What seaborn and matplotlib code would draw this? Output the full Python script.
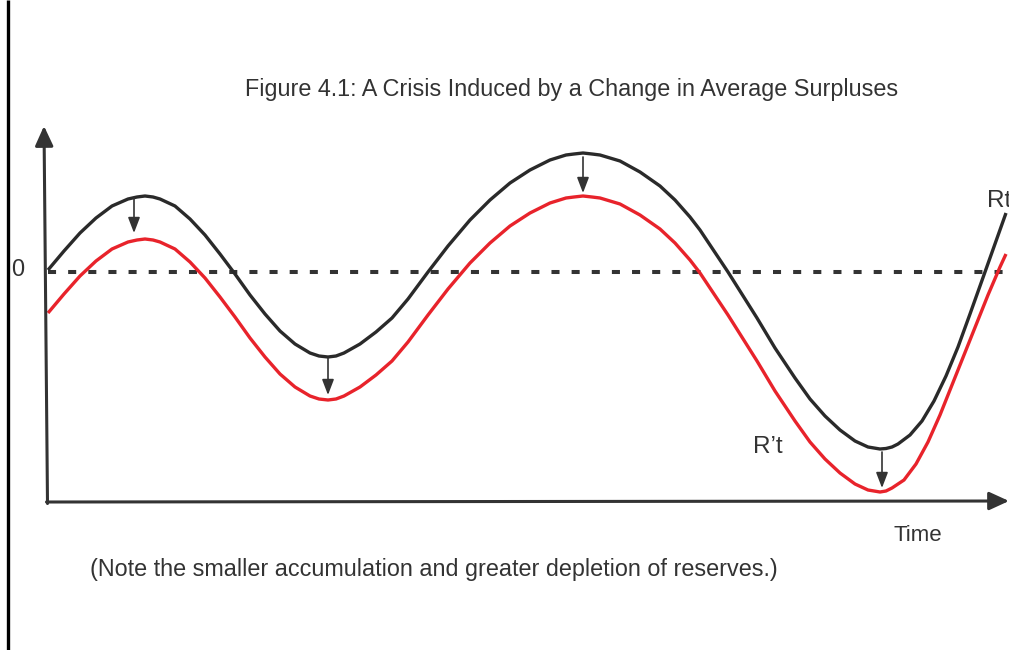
import matplotlib
matplotlib.use('Agg')
import matplotlib.pyplot as plt
import pandas as pd
import seaborn as sns

# reserves over time (0 = the dashed line)
rt_time = [48, 64, 80, 96, 112, 128, 137, 145, 153, 160, 175, 190, 205, 220, 235, 250, 265, 280, 295, 310, 319, 328,
           336, 344, 360, 376, 392, 408, 428, 448, 470, 490, 510, 530, 550, 566, 574, 583,
           592, 600, 620, 640, 660, 675, 690, 700, 710, 728, 757, 775, 795, 810, 825, 840, 855, 868, 874, 880,
           886, 892, 898, 910, 922, 934, 946, 958, 970, 985, 1006]
rt_level = [2, 21, 39, 54, 66, 73, 75, 76, 75, 73, 66, 53, 37, 18, -2, -23, -42, -59, -72, -81, -84, -85,
            -84, -81, -72, -60, -46, -27, 0, 26, 52, 72, 89, 102, 112, 117, 118, 119,
            118, 117, 111, 100, 86, 72, 55, 42, 27, 0, -46, -76, -106, -127, -144, -158, -169, -175, -176, -177,
            -176.5, -175, -172, -163, -149, -129, -104, -75, -42, 0, 59]

rpt_time = [48, 64, 80, 96, 112, 128, 137, 145, 153, 160, 175, 190, 205, 220, 235, 250, 265, 280, 295, 310, 319, 328,
            336, 344, 360, 376, 392, 408, 428, 448, 470, 490, 510, 530, 550, 566, 574, 583,
            592, 600, 620, 640, 660, 675, 690, 700, 710, 728, 757, 775, 795, 810, 825, 840, 855, 868, 874, 880,
            886, 892, 904, 916, 928, 940, 952, 964, 976, 988, 1000, 1006]
rpt_level = [-41, -22, -4, 11, 23, 30, 32, 33, 32, 30, 23, 10, -6, -25, -45, -66, -85, -102, -115, -124, -127, -128,
             -127, -124, -115, -103, -89, -70, -43, -17, 9, 29, 46, 59, 69, 74, 75, 76,
             75, 74, 68, 57, 43, 29, 12, -1, -16, -43, -89, -119, -149, -170, -187, -201, -212, -218, -219, -220,
             -219, -216, -208, -192, -170, -143, -113, -83, -53, -23, 5, 18]

# downward shift arrows at the turning points
shift_time = [134, 328, 583, 882]
shift_from = [74, -86, 115, -180]
shift_to = [39, -123, 79, -216]

title = 'Figure 4.1: A Crisis Induced by a Change in Average Surpluses'
note = '(Note the smaller accumulation and greater depletion of reserves.)'

sns.set_theme(style='white')
plt.rcParams['font.family'] = ['Liberation Sans', 'DejaVu Sans']

df = pd.concat([
    pd.DataFrame({'time': rt_time, 'level': rt_level, 'series': 'Rt'}),
    pd.DataFrame({'time': rpt_time, 'level': rpt_level, 'series': "R't"}),
])

fig = plt.figure(figsize=(10.09, 6.5), dpi=100)
ax = fig.add_axes([0, 0, 1, 1])
ax.set_xlim(0, 1009)
ax.set_ylim(-378, 272)
ax.axis('off')

dark = '#333333'

# page border line on the left
ax.axvline(8, color='black', lw=2.4)

# axes with arrow heads
axis_style = dict(arrowstyle='-|>,head_length=12,head_width=5.5', mutation_scale=1,
                  lw=2.2, color=dark, shrinkA=0, shrinkB=0)
ax.annotate('', xy=(44, 146), xytext=(47.5, -231.5), arrowprops=axis_style)
ax.annotate('', xy=(1009, -229), xytext=(46.5, -230), arrowprops=axis_style)

# zero line
ax.hlines(0, 48, 1005, colors=dark, lw=2.9, linestyles=(0, (2, 3)))

sns.lineplot(data=df, x='time', y='level', hue='series',
             palette={'Rt': '#2a2a2a', "R't": '#e8232b'},
             estimator=None, sort=False, linewidth=2.4, legend=False, ax=ax)
for line in ax.get_lines():
    line.set_solid_joinstyle('round')
    line.set_solid_capstyle('butt')

for t, a, b in zip(shift_time, shift_from, shift_to):
    ax.annotate('', xy=(t, b), xytext=(t, a),
                arrowprops=dict(arrowstyle='-|>,head_length=9.4,head_width=3.6', mutation_scale=1,
                                lw=1.2, color=dark, shrinkA=0, shrinkB=0))

ax.text(572, 176, title, fontsize=16.8, color=dark, ha='center', va='baseline')
ax.text(11, -4, '0', fontsize=17, color=dark, ha='left', va='baseline')
ax.text(987, 65, 'Rt', fontsize=17.5, color=dark, ha='left', va='baseline')
ax.text(753, -181, 'R\u2019t', fontsize=17.5, color=dark, ha='left', va='baseline')
ax.text(893, -269, 'Time', fontsize=16, color=dark, ha='left', va='baseline')
ax.text(90, -304, note, fontsize=16.8, color=dark, ha='left', va='baseline')

fig.savefig('out.png', dpi=100)
